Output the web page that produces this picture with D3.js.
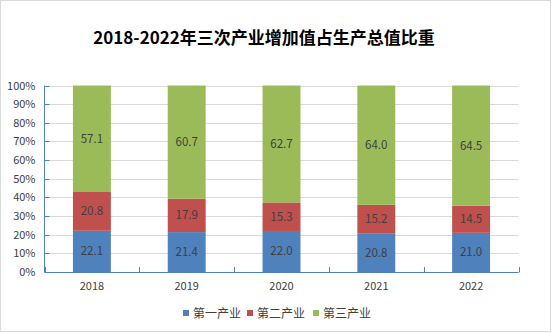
<!DOCTYPE html>
<html><head><meta charset="utf-8">
<script src="https://cdn.jsdelivr.net/npm/d3@7"></script>
<style>body{margin:0;background:#fff}svg{display:block}</style>
</head><body>
<script>
const years = ["2018","2019","2020","2021","2022"];
const primary = [22.1, 21.4, 22.0, 20.8, 21.0];
const secondary = [20.8, 17.9, 15.3, 15.2, 14.5];
const tertiary = [57.1, 60.7, 62.7, 64.0, 64.5];
const seriesNames = ["第一产业","第二产业","第三产业"];
const colors = ["#4f81bd","#c0504d","#9bbb59"];
const yTicks = [0,10,20,30,40,50,60,70,80,90,100];

const W = 555, H = 333;
const m = {left:44.5, right:518.5, top:85.5, bottom:272};
const svg = d3.select("body").append("svg").attr("width",W).attr("height",H);
svg.append("rect").attr("x",0.5).attr("y",0.5).attr("width",550).attr("height",331)
  .attr("fill","#fff").attr("stroke","#d9d9d9");

svg.append("text").attr("x",264).attr("y",44).attr("text-anchor","middle")
  .attr("font-family","'Noto Sans CJK SC', sans-serif").attr("font-weight","bold")
  .attr("font-size",17).attr("fill","#000").text("2018-2022年三次产业增加值占生产总值比重");

const x = d3.scaleBand().domain(years).range([m.left, m.right]).paddingInner(0.6).paddingOuter(0.3);
const xb = d3.scaleBand().domain(years).range([m.left, m.right]);
const y = d3.scaleLinear().domain([0,100]).range([m.bottom, m.top]);

// gridlines
svg.append("g").selectAll("line").data(yTicks.filter(d=>d>0)).join("line")
  .attr("x1",m.left).attr("x2",m.right).attr("y1",d=>Math.round(y(d))+0.5).attr("y2",d=>Math.round(y(d))+0.5)
  .attr("stroke","#d9d9d9");

const rows = years.map((yr,i)=>({year:yr, s0:primary[i], s1:secondary[i], s2:tertiary[i]}));
const stack = d3.stack().keys(["s0","s1","s2"])(rows);

const font = "'Microsoft YaHei','Noto Sans CJK SC','DejaVu Sans',sans-serif";
stack.forEach((layer,k)=>{
  const g = svg.append("g");
  g.selectAll("rect").data(layer).join("rect")
    .attr("x",d=>x(d.data.year)).attr("width",x.bandwidth())
    .attr("y",d=>y(d[1])).attr("height",d=>y(d[0])-y(d[1]))
    .attr("fill",colors[k]);
  g.selectAll("text").data(layer).join("text")
    .attr("x",d=>x(d.data.year)+x.bandwidth()/2)
    .attr("y",d=>(y(d[0])+y(d[1]))/2+4)
    .attr("text-anchor","middle").attr("font-family",font).attr("font-size",11.5)
    .attr("fill","#404040").text(d=>d3.format(".1f")(d[1]-d[0]));
});

// axes
const ax = d3.axisBottom(xb).tickSize(0).tickPadding(10);
const gx = svg.append("g").attr("transform",`translate(0,${m.bottom})`).call(ax);
gx.select(".domain").attr("stroke","#4f81bd").attr("d",`M${m.left},0.5H${m.right}`);
gx.selectAll("text").attr("font-family",font).attr("font-size",11).attr("fill","#404040");
// category boundary ticks (inside)
const bounds = years.map(yr=>xb(yr)).concat([m.right]);
svg.append("g").selectAll("line").data(bounds).join("line")
  .attr("x1",d=>Math.round(d)+0.5).attr("x2",d=>Math.round(d)+0.5)
  .attr("y1",m.bottom-5).attr("y2",m.bottom+0.5).attr("stroke","#4f81bd");

const ay = d3.axisLeft(y).tickValues(yTicks).tickFormat(d=>d+"%").tickSize(0).tickPadding(9);
const gy = svg.append("g").attr("transform",`translate(${m.left},0)`).call(ay);
gy.select(".domain").attr("stroke","#4f81bd").attr("d",`M0,${m.top}V${m.bottom}`);
gy.selectAll("text").attr("font-family",font).attr("font-size",11).attr("fill","#404040");
svg.append("g").selectAll("line").data(yTicks).join("line")
  .attr("x1",m.left).attr("x2",m.left+5)
  .attr("y1",d=>Math.round(y(d))+0.5).attr("y2",d=>Math.round(y(d))+0.5).attr("stroke","#4f81bd");

// legend
const lx = [183, 247, 313];
const lg = svg.append("g");
seriesNames.forEach((n,i)=>{
  lg.append("rect").attr("x",lx[i]).attr("y",310).attr("width",6).attr("height",6).attr("fill",colors[i]);
  lg.append("text").attr("x",lx[i]+10).attr("y",317.5).attr("font-family",font).attr("font-size",12)
    .attr("fill","#404040").text(n);
});
</script>
</body></html>
